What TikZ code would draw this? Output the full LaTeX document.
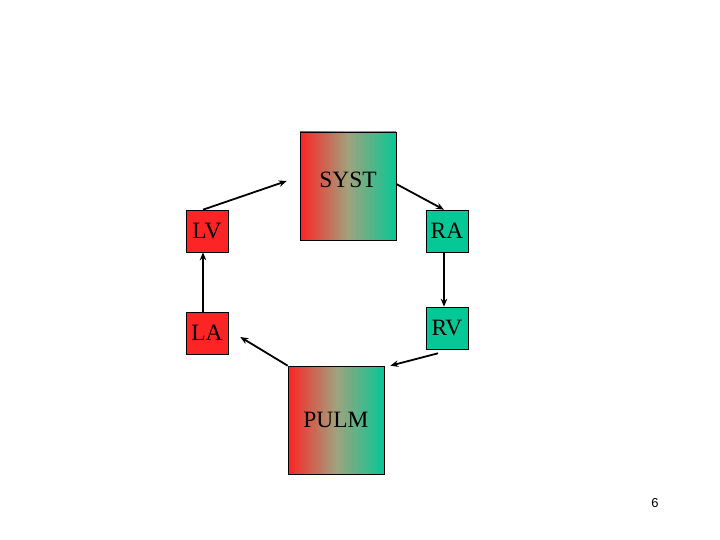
\documentclass[tikz,border=0pt]{standalone}
\usepackage{fontspec}
\setmainfont{Liberation Serif}
\newfontfamily\numfont{Liberation Sans}
\usetikzlibrary{arrows.meta}
\definecolor{cred}{RGB}{252,36,36}
\definecolor{cgreen}{RGB}{6,200,150}
\definecolor{cmid}{RGB}{160,162,125}
\tikzset{
  chamber/.style={draw=black, line width=0.6bp, minimum width=42bp, minimum height=42bp,
    inner sep=0pt, font=\fontsize{23.5}{25}\selectfont},
  vessel/.style={draw=black, line width=0.6bp, minimum width=96bp, minimum height=108bp,
    inner sep=0pt, left color=cred, right color=cgreen, middle color=cmid,
    font=\fontsize{23.5}{25}\selectfont},
  flow/.style={-{Stealth[length=8bp,width=6.5bp]}, line width=1.8bp}
}
\begin{document}
\begin{tikzpicture}[x=1bp,y=-1bp]
\useasboundingbox (0,0) rectangle (720,540);
\fill[white] (0,0) rectangle (720,540);
\node[vessel] (syst) at (348,186) {\raisebox{12bp}{SYST}};
\node[vessel] (pulm) at (336,420) {PULM};
\node[chamber, fill=cred] (lv) at (207,231) {\raisebox{-2bp}{LV}};
\node[chamber, fill=cred] (la) at (207,333) {\raisebox{-1bp}{LA}};
\node[chamber, fill=cgreen] (ra) at (447,231) {\raisebox{-2bp}{RA}};
\node[chamber, fill=cgreen] (rv) at (447,328) {\raisebox{-1bp}{RV}};
\node[font=\numfont\fontsize{13}{15}\selectfont] (pg) at (655,503) {6};
\draw[flow] ([xshift=-4bp]lv.north) -- ([xshift=-13bp,yshift=5bp]syst.west);
\draw[flow] ([yshift=2bp]syst.east) -- ([xshift=-3bp]ra.north);
\draw[flow] ([xshift=-3bp]ra.south) -- ([xshift=-3bp]rv.north);
\draw[flow] ([xshift=-9bp,yshift=-4bp]rv.south) -- ([xshift=6bp]pulm.north east);
\draw[flow] (pulm.north west) -- ([xshift=12bp,yshift=-4bp]la.east);
\draw[flow] ([xshift=-4bp]la.north) -- ([xshift=-4bp]lv.south);
\end{tikzpicture}
\end{document}
